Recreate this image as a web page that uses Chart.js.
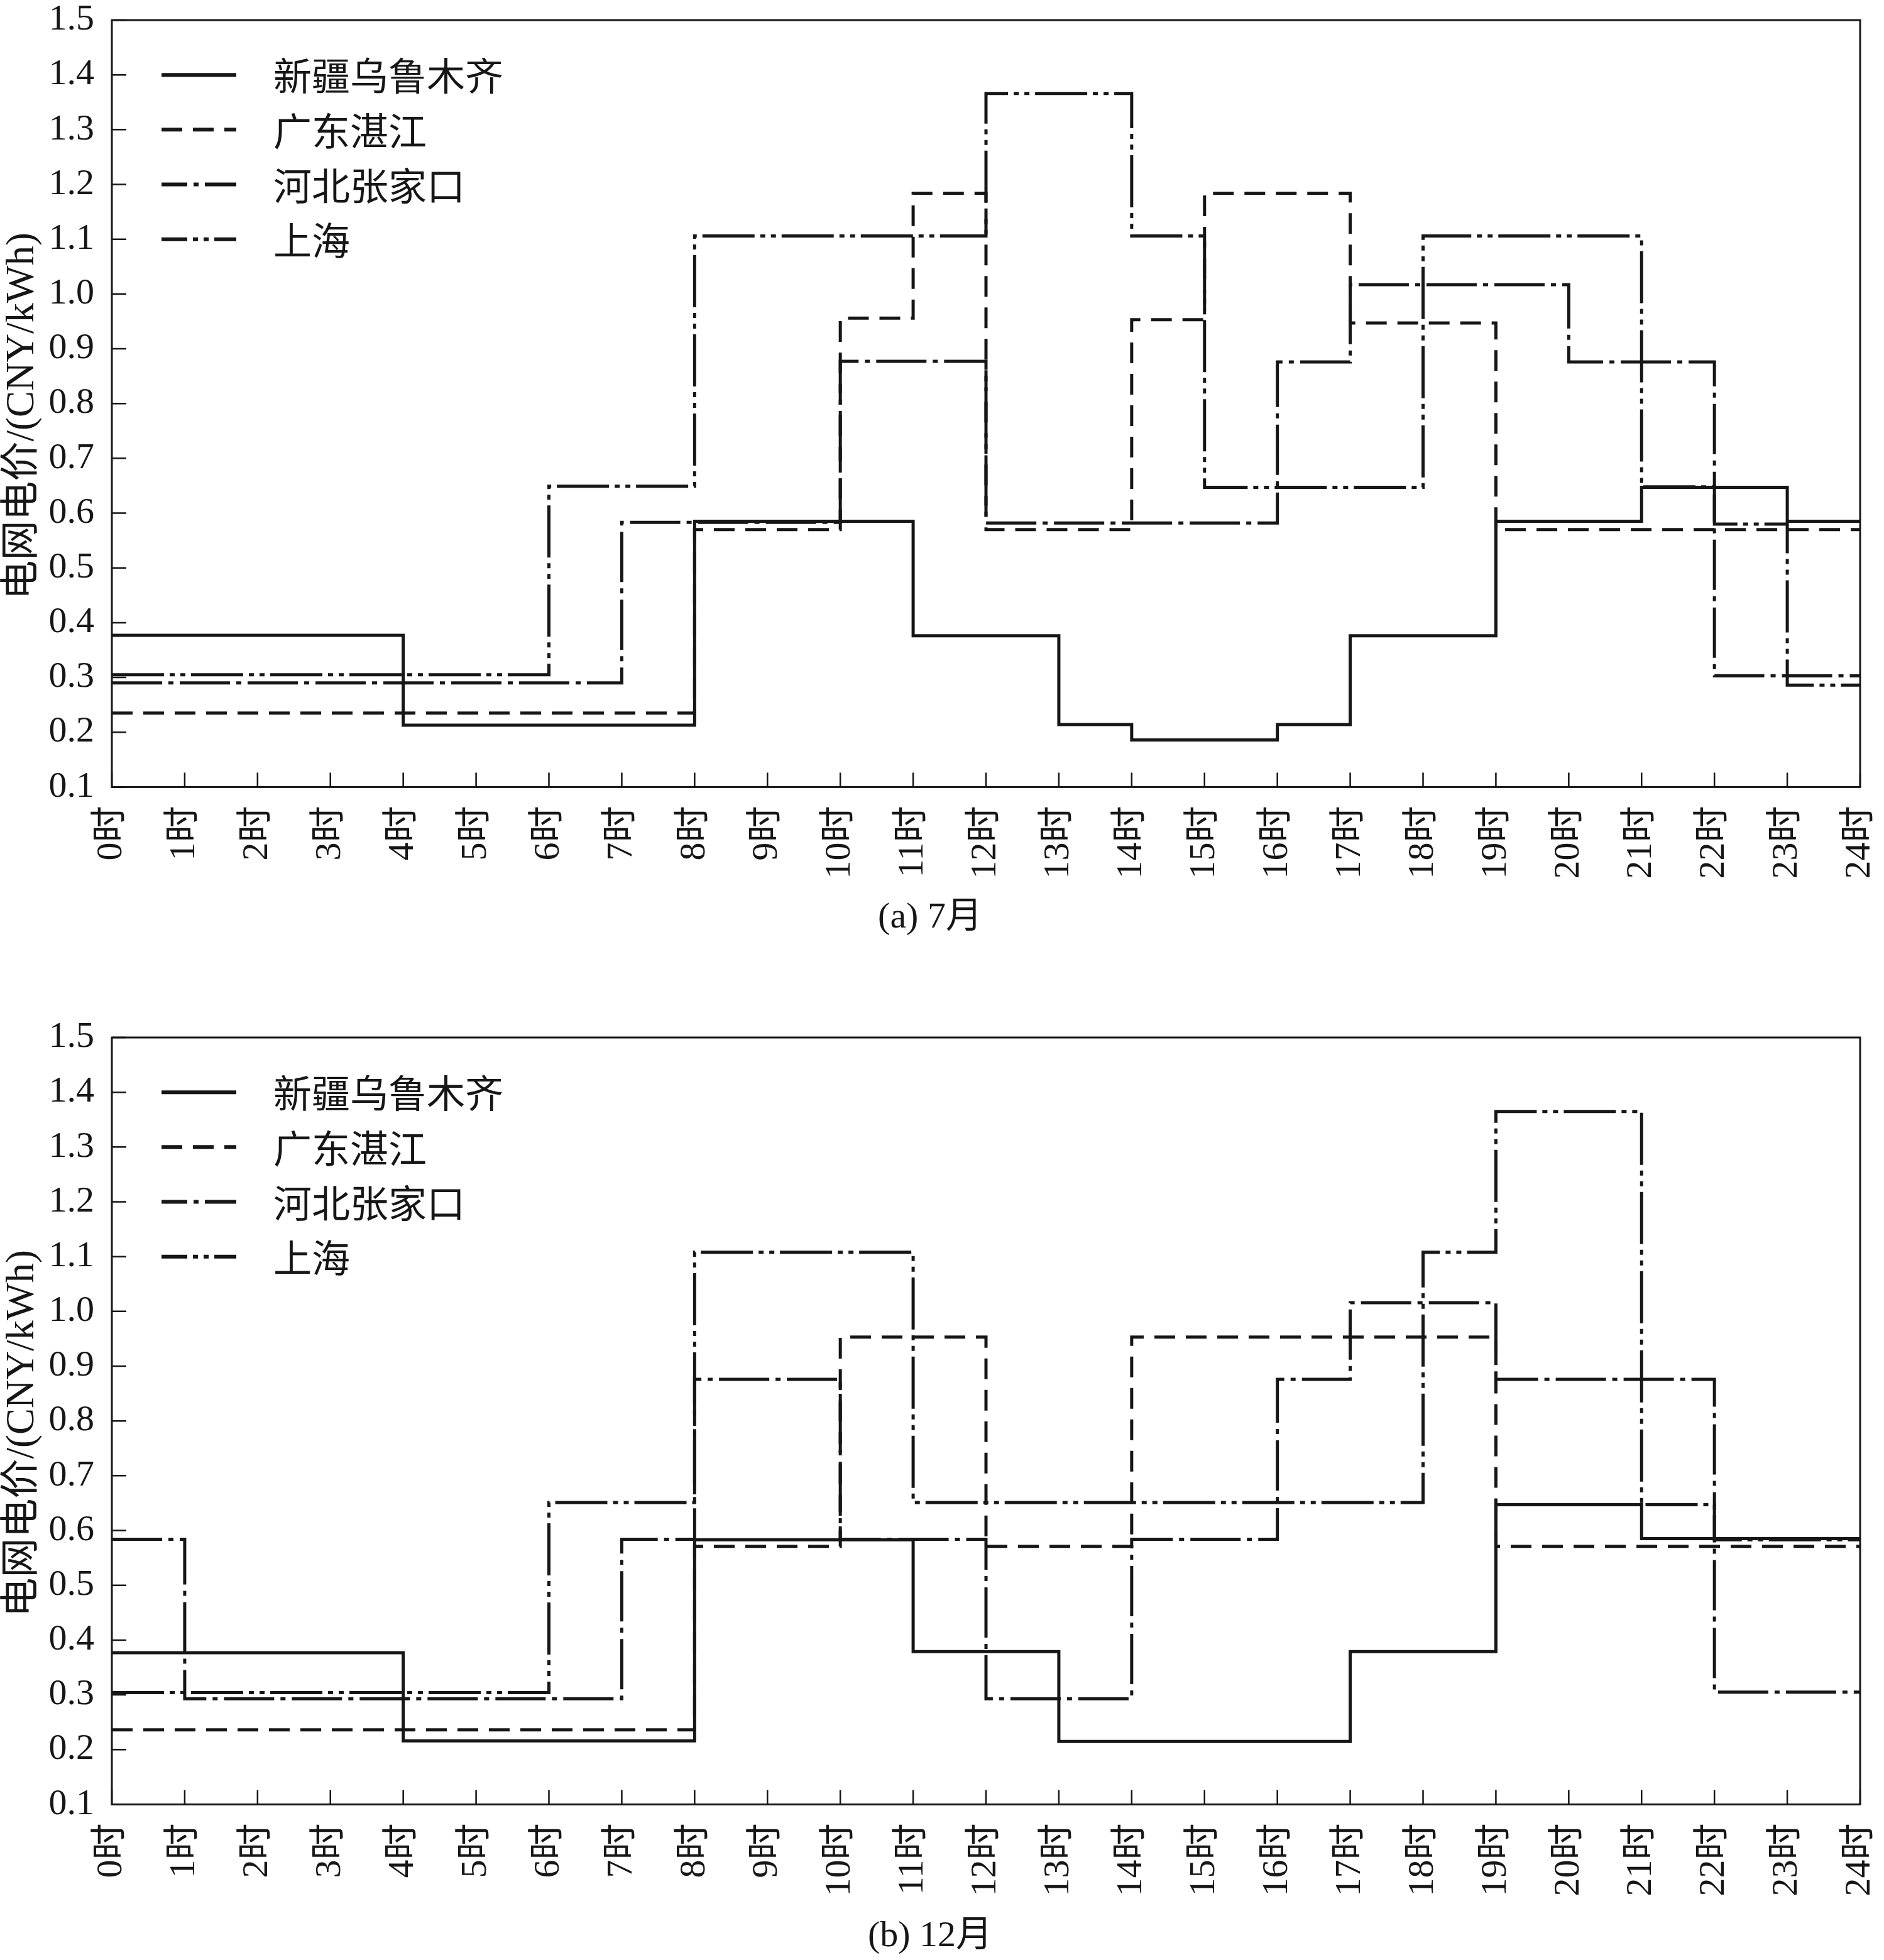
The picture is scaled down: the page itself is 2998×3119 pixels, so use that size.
<!DOCTYPE html>
<html>
<head>
<meta charset="utf-8">
<script src="https://cdn.jsdelivr.net/npm/chart.js@4"></script>
<style>
  html, body { margin: 0; padding: 0; background: #fff; }
  canvas { display: block; }
</style>
</head>
<body>
<canvas id="julChart" width="2998" height="1560"></canvas>
<canvas id="decChart" width="2998" height="1559"></canvas>
<script>
// hour ticks on the x axis (0时 ... 24时)
const hours = [0, 1, 2, 3, 4, 5, 6, 7, 8, 9, 10, 11, 12, 13, 14, 15, 16, 17, 18, 19, 20, 21, 22, 23, 24];
const yTicks = [0.1, 0.2, 0.3, 0.4, 0.5, 0.6, 0.7, 0.8, 0.9, 1.0, 1.1, 1.2, 1.3, 1.4, 1.5];
const regions = ['新疆乌鲁木齐', '广东湛江', '河北张家口', '上海'];
const yTitle = '电网电价/(CNY/kWh)';

// price for each hour slot h..h+1 (CNY/kWh), July
const julXinjiang = [0.377, 0.377, 0.377, 0.377, 0.213, 0.213, 0.213, 0.213, 0.585, 0.585, 0.585, 0.376,
                     0.376, 0.214, 0.186, 0.186, 0.214, 0.376, 0.376, 0.585, 0.585, 0.647, 0.647, 0.585];
const julGuangdong = [0.235, 0.235, 0.235, 0.235, 0.235, 0.235, 0.235, 0.235, 0.570, 0.570, 0.956, 1.184,
                      0.570, 0.570, 0.953, 1.184, 1.184, 0.947, 0.947, 0.570, 0.570, 0.570, 0.570, 0.570];
const julHebei = [0.290, 0.290, 0.290, 0.290, 0.290, 0.290, 0.290, 0.583, 0.583, 0.583, 0.877, 0.877,
                  0.582, 0.582, 0.582, 0.582, 0.876, 1.017, 1.017, 1.017, 0.876, 0.876, 0.303, 0.303];
const julShanghai = [0.305, 0.305, 0.305, 0.305, 0.305, 0.305, 0.649, 0.649, 1.106, 1.106, 1.106, 1.106,
                     1.366, 1.366, 1.106, 0.647, 0.647, 0.647, 1.106, 1.106, 1.106, 0.648, 0.580, 0.286];

// December
const decXinjiang = [0.377, 0.377, 0.377, 0.377, 0.216, 0.216, 0.216, 0.216, 0.583, 0.583, 0.583, 0.379,
                     0.379, 0.215, 0.215, 0.215, 0.215, 0.379, 0.379, 0.647, 0.647, 0.585, 0.585, 0.585];
const decGuangdong = [0.236, 0.236, 0.236, 0.236, 0.236, 0.236, 0.236, 0.236, 0.571, 0.571, 0.953, 0.953,
                      0.571, 0.571, 0.953, 0.953, 0.953, 0.953, 0.953, 0.571, 0.571, 0.571, 0.571, 0.571];
const decHebei = [0.584, 0.293, 0.293, 0.293, 0.293, 0.293, 0.293, 0.584, 0.876, 0.876, 0.584, 0.584,
                  0.293, 0.293, 0.584, 0.584, 0.876, 1.016, 1.016, 0.876, 0.876, 0.876, 0.305, 0.305];
const decShanghai = [0.304, 0.304, 0.304, 0.304, 0.304, 0.304, 0.651, 0.651, 1.108, 1.108, 1.108, 0.651,
                     0.651, 0.651, 0.651, 0.651, 0.651, 0.651, 1.108, 1.365, 1.365, 0.647, 0.583, 0.583];

const ink = '#161616';
const serif = "'Liberation Serif', 'Noto Sans CJK SC', serif";

// line styles per region: solid, dashed, dash-dot, dash-dot-dot
const dashes = [[], [33, 17], [80, 10, 8, 10], [83, 9, 8, 9, 8, 9]];
const legendDashOffset = [0, 0, 39, 42];

// step points: slot value holds from hour h to h+1, last value repeated at 24时
function stepPoints(values) {
    return hours.map((h, i) => ({ x: h, y: values[Math.min(i, values.length - 1)] }));
}

// draws the frame, inward tick marks, the y title and the in-plot legend
const framePlugin = {
    id: 'frame',
    afterDraw(chart) {
        const ctx = chart.ctx;
        const a = chart.chartArea;
        const xs = chart.scales.x;
        const ys = chart.scales.y;
        ctx.save();
        ctx.strokeStyle = ink;
        ctx.fillStyle = ink;
        ctx.setLineDash([]);

        ctx.lineWidth = 3;
        ctx.strokeRect(a.left, a.top, a.right - a.left, a.bottom - a.top);

        ctx.lineWidth = 2.5;
        ctx.beginPath();
        ys.ticks.forEach(t => {
            const py = ys.getPixelForValue(t.value);
            ctx.moveTo(a.left, py);
            ctx.lineTo(a.left + 23, py);
        });
        xs.ticks.forEach(t => {
            const px = xs.getPixelForValue(t.value);
            ctx.moveTo(px, a.bottom);
            ctx.lineTo(px, a.bottom - 23);
        });
        ctx.stroke();

        // rotated y axis title, sitting a little below the plot centre like the original
        ctx.save();
        ctx.translate(36, (a.top + a.bottom) / 2 + 20);
        ctx.rotate(-Math.PI / 2);
        ctx.font = "63px " + serif;
        ctx.textAlign = 'center';
        ctx.textBaseline = 'middle';
        ctx.fillText(yTitle, 0, 0);
        ctx.restore();

        // legend rows sit on the 1.4 / 1.3 / 1.2 / 1.1 levels
        const rowLevels = [1.4, 1.3, 1.2, 1.1];
        ctx.font = "61px 'Noto Sans CJK SC', serif";
        ctx.textBaseline = 'middle';
        ctx.textAlign = 'left';
        chart.data.datasets.forEach((ds, i) => {
            const py = ys.getPixelForValue(rowLevels[i]);
            ctx.lineWidth = 6;
            ctx.setLineDash(ds.borderDash);
            ctx.lineDashOffset = legendDashOffset[i];
            ctx.beginPath();
            ctx.moveTo(257, py);
            ctx.lineTo(376, py);
            ctx.stroke();
            ctx.setLineDash([]);
            ctx.fillText(ds.label, 435, py + 2);
        });
        ctx.restore();
    }
};

function makeChart(canvasId, series, caption, pad, xAxisHeight) {
    new Chart(document.getElementById(canvasId), {
        type: 'line',
        data: {
            datasets: series.map((vals, i) => ({
                label: regions[i],
                data: stepPoints(vals),
                stepped: 'before',
                borderColor: ink,
                borderWidth: 5,
                borderDash: dashes[i],
                borderCapStyle: 'butt',
                borderJoinStyle: 'miter',
                pointRadius: 0,
                fill: false
            }))
        },
        options: {
            responsive: false,
            animation: false,
            layout: { padding: pad },
            plugins: {
                legend: { display: false },
                tooltip: { enabled: false },
                title: {
                    display: true,
                    position: 'bottom',
                    text: caption,
                    color: ink,
                    font: { family: serif, size: 58, weight: 'normal', lineHeight: 1.2 },
                    padding: { top: 0, bottom: 0 }
                }
            },
            scales: {
                x: {
                    type: 'linear',
                    min: 0,
                    max: 24,
                    afterBuildTicks: s => { s.ticks = hours.map(v => ({ value: v })); },
                    afterFit: s => {
                        s.height = xAxisHeight;
                        s.paddingLeft = 0;
                        s.paddingRight = 0;
                    },
                    grid: { display: false },
                    border: { display: false },
                    ticks: {
                        autoSkip: false,
                        minRotation: 90,
                        maxRotation: 90,
                        padding: 22,
                        color: ink,
                        font: { family: serif, size: 58, lineHeight: 1 },
                        callback: v => v + '时'
                    }
                },
                y: {
                    min: 0.1,
                    max: 1.5,
                    afterBuildTicks: s => { s.ticks = yTicks.map(v => ({ value: v })); },
                    afterFit: s => {
                        s.width = 178;
                        s.paddingTop = 0;
                        s.paddingBottom = 0;
                    },
                    grid: { display: false },
                    border: { display: false },
                    title: { display: false },
                    ticks: {
                        padding: 20,
                        color: ink,
                        font: { family: serif, size: 58, lineHeight: 1 },
                        callback: v => Number(v).toFixed(1)
                    }
                }
            }
        },
        plugins: [framePlugin]
    });
}

makeChart('julChart', [julXinjiang, julGuangdong, julHebei, julShanghai], '(a) 7月',
    { top: 32, right: 38, bottom: 64, left: 0 }, 174);
makeChart('decChart', [decXinjiang, decGuangdong, decHebei, decShanghai], '(b) 12月',
    { top: 91, right: 38, bottom: 2, left: 0 }, 176);
</script>
</body>
</html>
